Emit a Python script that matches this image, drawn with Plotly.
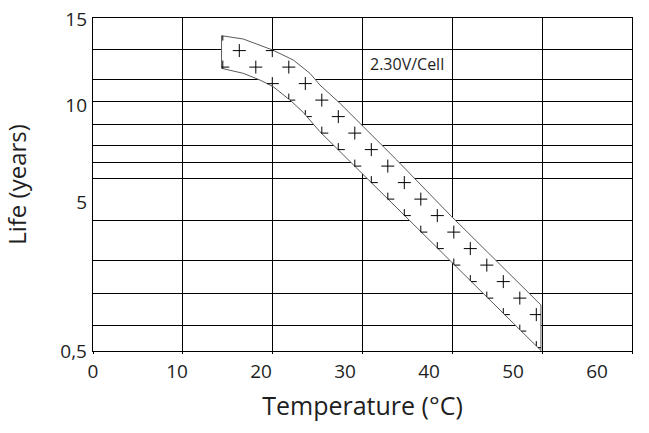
import plotly.graph_objects as go

# ---------------- data ----------------
# Temperature (°C) and position on the chart's (irregular) life scale, in scale units (0 = bottom edge)
upper_temp = [14.31, 16.72, 19.99, 22.29, 24.15, 25.26, 27.49, 28.24, 33.81, 39.75, 49.86]
upper_pos = [315.3, 312.0, 301.0, 291.0, 277.7, 266.0, 247.7, 241.0, 191.0, 136.0, 46.0]
lower_temp = [14.31, 16.72, 18.58, 20.06, 21.92, 23.40, 25.26, 26.39, 30.09, 36.41, 49.86]
lower_pos = [282.7, 277.7, 271.0, 264.3, 251.0, 238.7, 219.3, 209.2, 176.0, 119.6, 0.5]

x_grid = [0, 10, 20, 30, 40, 50, 60]
y_grid = [25.7, 57.7, 90.7, 130.7, 172.7, 188.7, 205.7, 226.7, 250.0, 271.7, 301.7]
y_tick_pos = [332.0, 246.0, 148.3, 0.0]
y_tick_text = ["15", "10", "5", "0,5"]
x_tick_vals = [0, 10, 20, 30, 40, 50, 60]
x_tick_text = ["0", "10", "20", "30", "40", "50", "60"]
label_text = "2.30V/Cell"
label_temp, label_pos = 34.96, 286.7

# ---------------- layout constants ----------------
W, H = 649, 433
ML, MR, MT, MB = 93, 17, 18, 82
PW = W - ML - MR
PX_PER_DEG = PW / 60.0
Y_MAX = H - MT - MB
FONT = "Open Sans"
TXT = "#1e1e1e"

# ---------------- band polygon ----------------
poly_t = upper_temp + lower_temp[::-1] + [upper_temp[0]]
poly_u = upper_pos + lower_pos[::-1] + [upper_pos[0]]
poly_px = [(t * PX_PER_DEG, u) for t, u in zip(poly_t, poly_u)]


def inside(p):
    x, y = p
    c = False
    n = len(poly_px) - 1
    for i in range(n):
        x1, y1 = poly_px[i]
        x2, y2 = poly_px[i + 1]
        if (y1 > y) != (y2 > y):
            xi = x1 + (y - y1) * (x2 - x1) / (y2 - y1)
            if xi > x:
                c = not c
    return c


def clip(a, b):
    ts = [0.0, 1.0]
    dx, dy = b[0] - a[0], b[1] - a[1]
    for i in range(len(poly_px) - 1):
        c = poly_px[i]
        d = poly_px[i + 1]
        ex, ey = d[0] - c[0], d[1] - c[1]
        den = dx * ey - dy * ex
        if abs(den) < 1e-12:
            continue
        t = ((c[0] - a[0]) * ey - (c[1] - a[1]) * ex) / den
        s = ((c[0] - a[0]) * dy - (c[1] - a[1]) * dx) / den
        if 0 <= t <= 1 and 0 <= s <= 1:
            ts.append(t)
    ts.sort()
    segs = []
    for t0, t1 in zip(ts[:-1], ts[1:]):
        if t1 - t0 < 1e-9:
            continue
        tm = (t0 + t1) / 2
        if inside((a[0] + dx * tm, a[1] + dy * tm)):
            segs.append(((a[0] + dx * t0, a[1] + dy * t0), (a[0] + dx * t1, a[1] + dy * t1)))
    return segs


# hatch of "+" signs (fill texture of the band)
HX0, HY0 = (239.3 - ML), (H - MB) - 50.6   # lattice origin in px-like units
STEP, PERIOD, ARM = 16.5, 33.0, 6.5
hx, hy = [], []
for k in range(-3, 24):
    for j in range(-4, 6):
        cx = HX0 + STEP * k + PERIOD * j
        cy = HY0 - STEP * k
        for a, b in (((cx - ARM, cy), (cx + ARM, cy)), ((cx, cy - ARM), (cx, cy + ARM))):
            for p, q in clip(a, b):
                hx += [p[0] / PX_PER_DEG, q[0] / PX_PER_DEG, None]
                hy += [p[1], q[1], None]

fig = go.Figure()
fig.add_trace(go.Scatter(
    x=poly_t, y=poly_u, mode="lines", fill="toself", fillcolor="white",
    line=dict(color="#5a5a5a", width=1), hoverinfo="skip", showlegend=False))
fig.add_trace(go.Scatter(
    x=hx, y=hy, mode="lines", line=dict(color="black", width=1),
    hoverinfo="skip", showlegend=False))
# carrier trace for the label axes
fig.add_trace(go.Scatter(x=[], y=[], xaxis="x2", yaxis="y2", showlegend=False))

fig.add_annotation(x=label_temp, y=label_pos, text=label_text, showarrow=False,
                   font=dict(family=FONT, size=16, color=TXT))

fig.update_layout(
    width=W, height=H,
    margin=dict(l=ML, r=MR, t=MT, b=MB, autoexpand=False),
    paper_bgcolor="white", plot_bgcolor="white",
    font=dict(family=FONT, color=TXT),
    xaxis=dict(range=[0, 60], tickvals=x_grid, showticklabels=False, automargin=False,
               showgrid=True, gridcolor="black", gridwidth=1, zeroline=False,
               showline=True, mirror=True, linecolor="black", linewidth=1,
               ticks="outside", ticklen=2, tickcolor="black"),
    yaxis=dict(range=[0, Y_MAX], tickvals=y_grid, showticklabels=False, automargin=False,
               showgrid=True, gridcolor="black", gridwidth=1, zeroline=False,
               showline=True, mirror=True, linecolor="black", linewidth=1, ticks=""),
    xaxis2=dict(overlaying="x", anchor="y", side="bottom", automargin=False,
                range=[0, 60 * PW / 504.0], tickvals=x_tick_vals, ticktext=x_tick_text,
                showgrid=False, zeroline=False, showline=False, ticks="",
                ticklabelstandoff=7,
                tickfont=dict(family=FONT, size=19, color=TXT),
                title=dict(text="Temperature (°C)", standoff=14,
                           font=dict(family=FONT, size=25, color=TXT))),
    yaxis2=dict(overlaying="y", anchor="x", side="left", automargin=False,
                range=[0, Y_MAX], tickvals=y_tick_pos, ticktext=y_tick_text,
                showgrid=False, zeroline=False, showline=False, ticks="",
                ticklabelstandoff=5,
                tickfont=dict(family=FONT, size=19, color=TXT),
                title=dict(text="Life (years)", standoff=26,
                           font=dict(family=FONT, size=24, color=TXT))),
)

fig.write_html("out.html", config={"displayModeBar": False},
               post_script="document.body.style.margin='0px';")
